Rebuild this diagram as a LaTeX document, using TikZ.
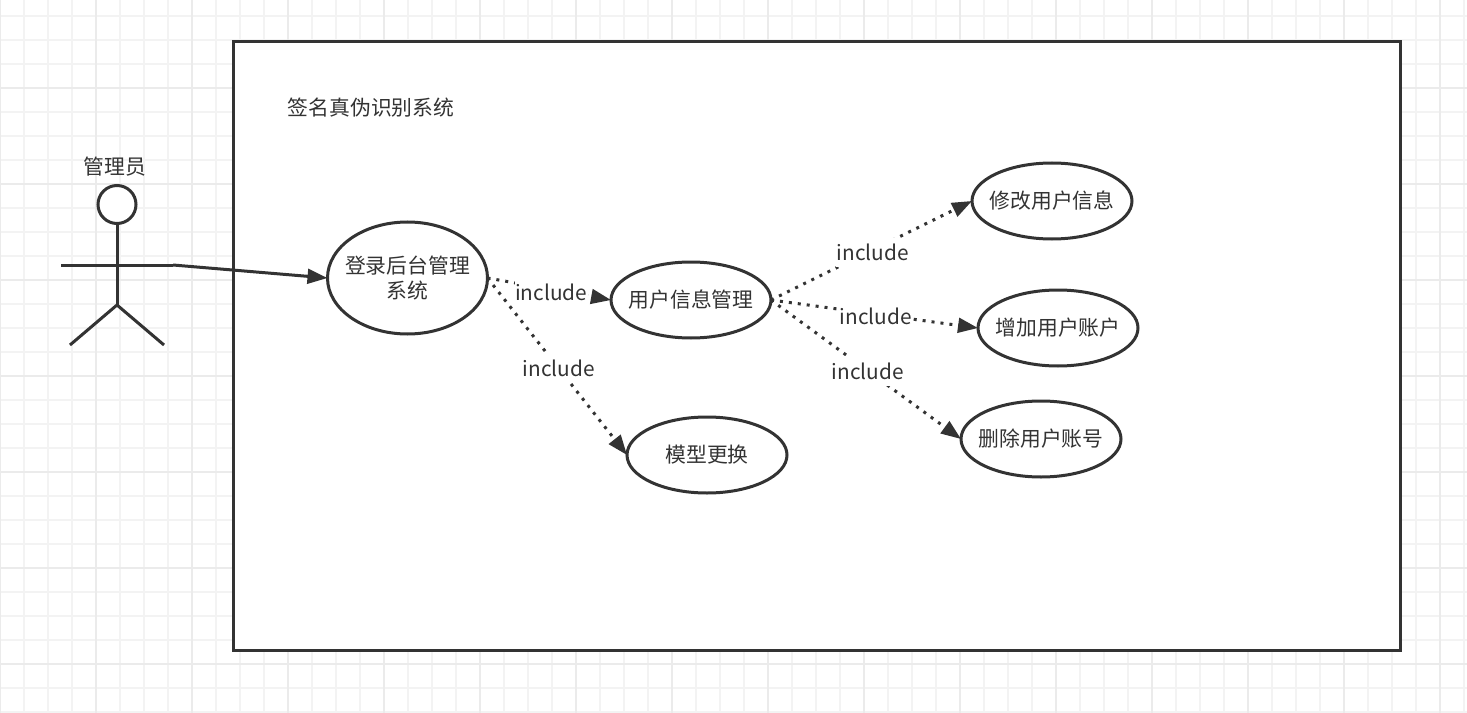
\documentclass[tikz,border=0pt]{standalone}
\usepackage{fontspec}
\setmainfont{Noto Sans CJK SC}
\usetikzlibrary{shapes.geometric,arrows.meta}
\definecolor{ink}{HTML}{333333}
\definecolor{gridminor}{HTML}{F3F3F3}
\definecolor{gridmajor}{HTML}{EBEBEB}
\newcommand{\tightline}[1]{\makebox[0pt][c]{#1}}
\tikzset{
  txt/.style={text=ink,font=\fontsize{15.6pt}{18.75pt}\selectfont,inner sep=0pt},
  usecase/.style={ellipse,draw=ink,fill=white,line width=2.25pt,minimum width=120pt,inner sep=0pt,outer sep=0pt,align=center,text=ink,font=\fontsize{15.6pt}{18.75pt}\selectfont},
  frameline/.style={draw=ink,line width=2.25pt},
  stick/.style={draw=ink,line width=2.25pt},
  assoc/.style={draw=ink,line width=2.25pt,-{Triangle[length=15pt,width=11pt]}},
  incl/.style={draw=ink,line width=2.25pt,dash pattern=on 2.25pt off 4.5pt,-{Triangle[length=15pt,width=11pt,fill=ink]}},
  lab/.style={txt,fill=white,minimum height=22pt,inner xsep=0.5pt}
}
\begin{document}
\begin{tikzpicture}[x=0.75pt,y=-0.75pt]
\useasboundingbox (0,0) rectangle (1467,713);
\fill[white] (0,0) rectangle (1467,713);
\begin{scope}
\clip (0,0) rectangle (1467,713);
\foreach \g in {0,24,...,1464} {\draw[gridminor,line width=1.1pt] (\g,0) -- (\g,713);}
\foreach \g in {16,40,...,712} {\draw[gridminor,line width=1.1pt] (0,\g) -- (1467,\g);}
\foreach \g in {0,96,...,1440} {\draw[gridmajor,line width=1.4pt] (\g,0) -- (\g,713);}
\foreach \g in {88,184,...,664} {\draw[gridmajor,line width=1.4pt] (0,\g) -- (1467,\g);}
\end{scope}
\node[frameline,fill=white,rectangle,minimum width=875.25pt,minimum height=456pt,inner sep=0pt,outer sep=0pt] (sys) at (816.5,346) {};
\node[txt] (title) at (371,107.5) {签名真伪识别系统};
\node[txt] (actorname) at (115,166.5) {管理员};
% actor
\node[circle,stick,fill=white,minimum size=28.5pt,inner sep=0pt,outer sep=0pt] (head) at (117,204.5) {};
\coordinate (hip) at (117,305);
\coordinate (armL) at (61,265);
\coordinate (armR) at (173,265);
\coordinate (legL) at (70,345);
\coordinate (legR) at (164,345);
\draw[stick] (head.south) -- (hip);
\draw[stick] (armL) -- (armR);
\draw[stick] (legL) -- (hip) -- (legR);
% use cases
\node[usecase,minimum height=84pt] (login) at (407.5,278) {\tightline{登录后台管理}\\\tightline{系统}};
\node[usecase,minimum height=57pt] (user) at (691,300) {\tightline{用户信息管理}};
\node[usecase,minimum height=57pt] (model) at (707,455) {\tightline{模型更换}};
\node[usecase,minimum height=57pt] (modify) at (1052,201) {\tightline{修改用户信息}};
\node[usecase,minimum height=57pt] (add) at (1058,328) {\tightline{增加用户账户}};
\node[usecase,minimum height=57pt] (del) at (1041,439) {\tightline{删除用户账号}};
% connectors
\draw[assoc] (armR) -- (login.west);
\draw[incl] (login.east) -- node[lab,pos=.516,yshift=-2.5pt] (l1) {include} (user.west);
\draw[incl] (login.east) -- node[lab,pos=.51] (l2) {include} (model.west);
\draw[incl] (user.east) -- node[lab,pos=.507,yshift=-2pt] (l3) {include} (modify.west);
\draw[incl] (user.east) -- node[lab,pos=.507,yshift=-1.5pt] (l4) {include} (add.west);
\draw[incl] (user.east) -- node[lab,pos=.51] (l5) {include} (del.west);
\end{tikzpicture}
\end{document}
